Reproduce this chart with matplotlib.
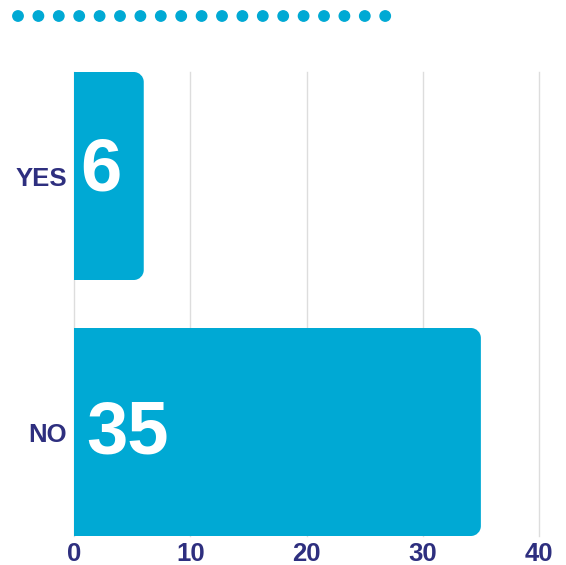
import matplotlib
matplotlib.use("Agg")
import matplotlib.pyplot as plt
from matplotlib.path import Path
from matplotlib.patches import PathPatch
from matplotlib.transforms import IdentityTransform

categories = ["YES", "NO"]
values = [6, 35]
xticks = [0, 10, 20, 30, 40]

BAR = "#00A9D4"
NAVY = "#2E2F7F"
plt.rcParams['font.family'] = ['Liberation Sans', 'DejaVu Sans']

W, H = 566, 565
fig = plt.figure(figsize=(W / 100, H / 100), dpi=100)
ax = fig.add_axes([74 / W, (H - 536) / H, (539 - 74) / W, (536 - 72) / H])

ypos = list(range(len(categories)))
bars = ax.barh(ypos, values, height=0.8125, color=BAR, zorder=2)
ax.set_xlim(0, 40)
ax.set_ylim(len(categories) - 1 + 0.40625, -0.40625)
ax.set_xticks(xticks)
ax.set_xticklabels([str(t) for t in xticks])
ax.set_yticks(ypos)
ax.set_yticklabels(categories)
ax.grid(axis="x", color="#DDDDDD", linewidth=1, zorder=0)
ax.grid(axis="y", visible=False)
for gl in ax.get_xgridlines():
    gl.set_clip_on(False)
for s in ax.spines.values():
    s.set_visible(False)
ax.tick_params(length=0, labelsize=18.5, labelcolor=NAVY)
for lab in ax.get_xticklabels() + ax.get_yticklabels():
    lab.set_fontweight("bold")
ax.tick_params(axis="y", pad=5)
ax.tick_params(axis="x", pad=4)

fig.canvas.draw()
r = 10
for b in bars:
    bb = b.get_window_extent()
    x0, y0, x1, y1 = bb.x0, bb.y0, bb.x1, bb.y1
    k = 0.5523 * r
    verts = [(x0, y0), (x1 - r, y0), (x1 - r + k, y0), (x1, y0 + r - k), (x1, y0 + r),
             (x1, y1 - r), (x1, y1 - r + k), (x1 - r + k, y1), (x1 - r, y1),
             (x0, y1), (x0, y0)]
    codes = [Path.MOVETO, Path.LINETO, Path.CURVE4, Path.CURVE4, Path.CURVE4,
             Path.LINETO, Path.CURVE4, Path.CURVE4, Path.CURVE4,
             Path.LINETO, Path.CLOSEPOLY]
    patch = PathPatch(Path(verts, codes), facecolor=BAR, edgecolor="none",
                      transform=IdentityTransform(), zorder=3, clip_on=False)
    ax.add_artist(patch)
    b.set_visible(False)

label_offsets = [(6, 5), (12, -2)]
for i, (y, v) in enumerate(zip(ypos, values)):
    ax.annotate(str(v), xy=(0, y), xytext=label_offsets[i], textcoords="offset pixels",
                ha="left", va="center", color="white", fontsize=53.5,
                fontweight="bold", zorder=5)

# decorative dots
for i in range(19):
    fig.add_artist(plt.Circle(((18 + i * 20.4) / W, (H - 16) / H), 5.2 / W,
                              color=BAR, transform=fig.transFigure))

fig.savefig("out.png", dpi=100)
